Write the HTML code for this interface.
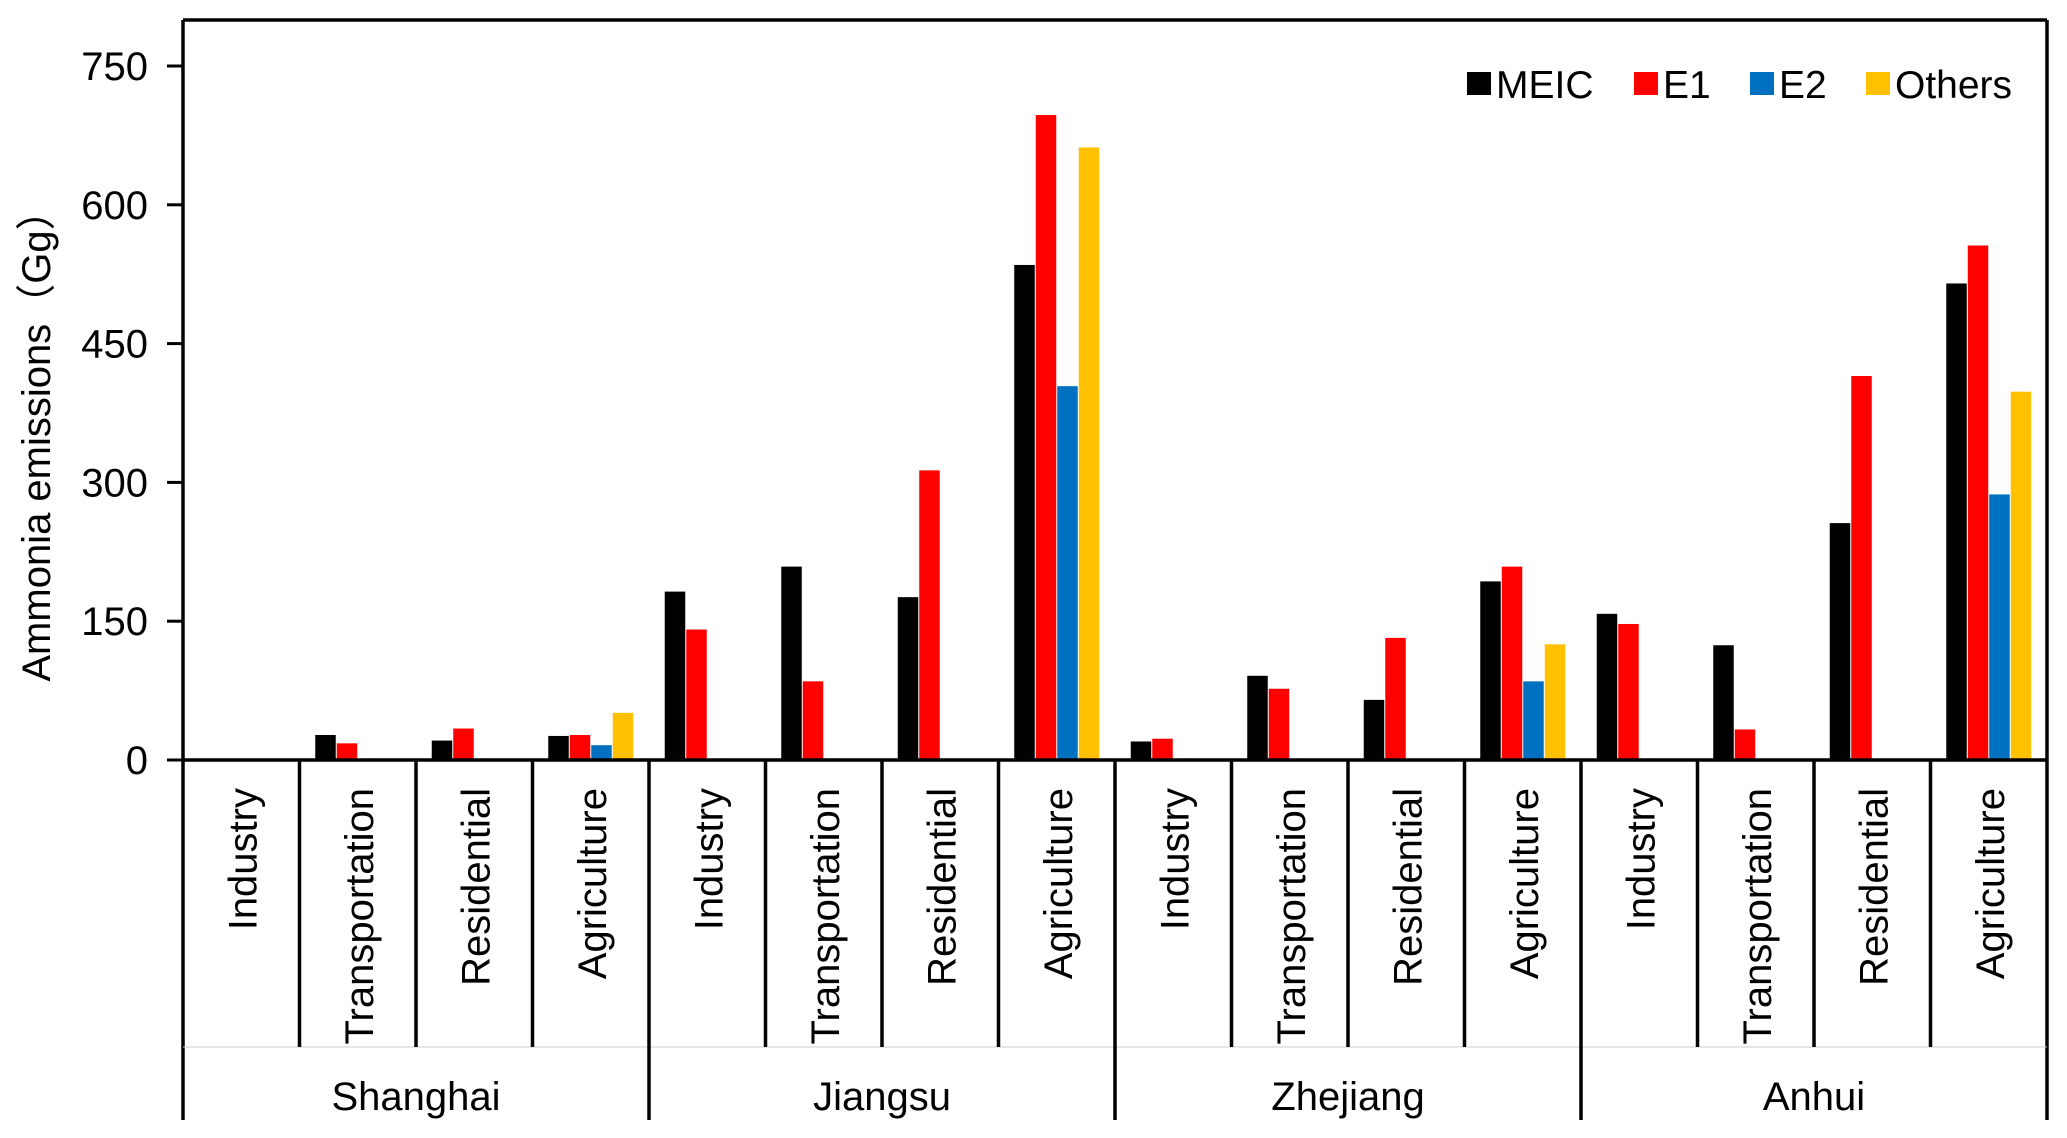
<!DOCTYPE html>
<html><head><meta charset="utf-8"><style>
body{margin:0;background:#fff}
svg{display:block;font-family:"Liberation Sans","Noto Sans CJK SC",sans-serif}
</style></head><body>
<svg id="chart" width="2067" height="1138" viewBox="0 0 2067 1138" xmlns="http://www.w3.org/2000/svg"></svg>
<script>
const provinces = ["Shanghai","Jiangsu","Zhejiang","Anhui"];
const sectors = ["Industry","Transportation","Residential","Agriculture"];
const seriesNames = ["MEIC","E1","E2","Others"];
const meic   = [0,27,21,26, 182,209,176,535, 20,91,65,193, 158,124,256,515];
const e1     = [0,18,34,27, 141,85,313,697, 23,77,132,209, 147,33,415,556];
const e2     = [0,0,0,16, 0,0,0,404, 0,0,0,85, 0,0,0,287];
const others = [0,0,0,51, 0,0,0,662, 0,0,0,125, 0,0,0,398];
const yTicks = [0,150,300,450,600,750];

const colors = ["#000000","#ff0000","#0070c0","#ffc000"];
const svg = document.getElementById('chart');
const NS = "http://www.w3.org/2000/svg";
const L=183, R=2047, T=20, Y0=760, YMAX=66, CATB=1047, B=1120;
const yScale = v => Y0 - (v/750)*(Y0-YMAX);
const nCat = provinces.length*sectors.length;
const cw = (R-L)/nCat;
const xCat = i => L + cw*i;
function el(tag, attrs){const e=document.createElementNS(NS,tag);for(const k in attrs)e.setAttribute(k,attrs[k]);svg.appendChild(e);return e;}

// ticks
yTicks.forEach(t=>{
  const y=yScale(t);
  const tk=el('line',{x1:L-16,x2:L,y1:y,y2:y,stroke:'#000','stroke-width':3});
  
  
  const tx=el('text',{x:148,y:y+14,'text-anchor':'end','font-size':40});
  tx.textContent=t;
  
  
});
// bars
const series=[meic,e1,e2,others];
const bw=20.5, gap=1;
series.forEach((arr,s)=>{
  arr.forEach((v,i)=>{
    if(v<=0) return;
    const cx=xCat(i)+cw/2;
    const x=cx-(4*bw+3*gap)/2+s*(bw+gap);
    const r=el('rect',{x:x,y:yScale(v),width:bw,height:Y0-yScale(v),fill:colors[s]});
    
    
  });
});
// axes
el('line',{x1:L,x2:L,y1:T,y2:B,stroke:'#000','stroke-width':3.5});
el('line',{x1:L,x2:R,y1:T,y2:T,stroke:'#000','stroke-width':3.5});
el('line',{x1:R,x2:R,y1:T,y2:B,stroke:'#000','stroke-width':3.5});
const xa=el('line',{x1:L,x2:R,y1:Y0,y2:Y0,stroke:'#000','stroke-width':3.5});


el('line',{x1:L,x2:R,y1:CATB,y2:CATB,stroke:'#ccc','stroke-width':1});
// category separators & labels
for(let i=0;i<nCat;i++){
  if(i>0){
    const isGroup=i%4===0;
    el('line',{x1:xCat(i),x2:xCat(i),y1:Y0,y2:isGroup?B:CATB,stroke:'#000','stroke-width':3.5});
  }
  const cx=xCat(i)+cw/2;
  const t=el('text',{x:0,y:0,'text-anchor':'end','font-size':40,transform:`translate(${cx+15},${788}) rotate(-90)`});
  t.textContent=sectors[i%4];
  
  
}
provinces.forEach((p,g)=>{
  const t=el('text',{x:xCat(g*4)+cw*2,y:1110,'text-anchor':'middle','font-size':40});
  t.textContent=p;
  
  
});
// y title
const yt=el('text',{x:0,y:0,'text-anchor':'middle','font-size':40,transform:'translate(50,436) rotate(-90)'});
yt.textContent='Ammonia emissions（Gg）';


// legend
const lx=[1467,1634,1750,1866];
seriesNames.forEach((n,s)=>{
  const r=el('rect',{x:lx[s],y:72,width:24,height:23,fill:colors[s]});
  
  
  const t=el('text',{x:lx[s]+29,y:98,'font-size':39});
  t.textContent=n;
  
  
});
</script>
</body></html>
